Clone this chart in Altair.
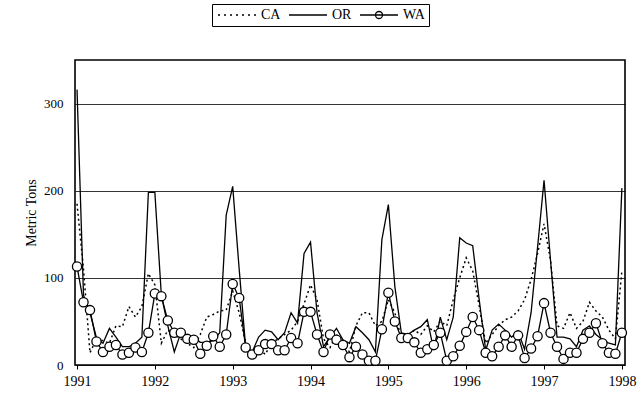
import altair as alt
import pandas as pd

# Monthly landings, Jan 1991 .. Jan 1998 (metric tons)
series_names = ["CA", "OR", "WA"]
start_year = 1991

ca = [185, 110, 14, 30, 28, 25, 45, 44, 67, 55, 67, 105,
      92, 25, 40, 35, 30, 25, 20, 35, 55, 58, 62, 63,
      85, 60, 25, 15, 20, 12, 25, 30, 35, 40, 50, 70,
      92, 75, 30, 20, 35, 25, 15, 45, 60, 60, 45, 50,
      75, 60, 30, 33, 40, 35, 45, 38, 50, 45, 75, 100,
      123, 108, 68, 25, 35, 45, 52, 55, 62, 75, 98, 128,
      162, 120, 45, 42, 60, 42, 50, 72, 62, 55, 40, 30,
      108]

oregon = [316, 80, 60, 31, 25, 42, 32, 21, 21, 25, 32, 198,
          198, 80, 45, 15, 37, 34, 32, 26, 26, 28, 37, 172,
          205, 110, 20, 15, 32, 40, 38, 29, 37, 60, 48, 128,
          141, 60, 21, 32, 42, 29, 25, 44, 37, 29, 15, 144,
          184, 90, 37, 35, 40, 44, 52, 17, 55, 29, 55, 146,
          140, 137, 75, 17, 40, 47, 40, 32, 38, 18, 60, 135,
          212, 120, 32, 32, 30, 21, 40, 45, 35, 29, 25, 23,
          203]

wa = [113, 72, 63, 27, 15, 21, 23, 12, 14, 20, 15, 37,
      82, 79, 51, 37, 37, 30, 29, 13, 22, 33, 21, 35,
      93, 77, 20, 12, 17, 24, 24, 17, 17, 31, 25, 61,
      61, 35, 15, 35, 29, 23, 9, 21, 12, 5, 5, 41,
      83, 50, 31, 31, 26, 14, 18, 23, 37, 5, 10, 22,
      38, 55, 40, 14, 10, 21, 34, 21, 34, 8, 19, 33,
      71, 37, 21, 7, 14, 14, 30, 37, 48, 25, 14, 13,
      37]

year_ticks = list(range(1991, 1999))
tons_ticks = [0, 100, 200, 300]

rows = []
for name, vals in zip(series_names, [ca, oregon, wa]):
    for i, v in enumerate(vals):
        rows.append({"t": start_year + i / 12.0, "series": name, "tons": v})
df = pd.DataFrame(rows)

FONT = "Liberation Serif"

x_enc = alt.X(
    "t:Q",
    scale=alt.Scale(domain=[1990.974, 1998.04], nice=False, zero=False),
    axis=alt.Axis(values=year_ticks, format="d", title=None, grid=False,
                  domain=False, tickSize=4, tickColor="black",
                  labelPadding=5, labelFontSize=14),
)
y_enc = alt.Y(
    "tons:Q",
    scale=alt.Scale(domain=[0, 350], nice=False),
    axis=alt.Axis(values=tons_ticks, title="Metric Tons", grid=True,
                  gridColor="black", gridWidth=0.8, domain=False,
                  tickSize=0, labelPadding=12, labelFontSize=13,
                  titleFontSize=14, titleFontWeight="normal",
                  titleFont=FONT, titlePadding=5),
)

base = alt.Chart(df)

ca_line = base.transform_filter("datum.series == 'CA'").mark_line(
    color="black", strokeWidth=1.5, strokeDash=[2, 3]
).encode(x=x_enc, y=y_enc)

or_line = base.transform_filter("datum.series == 'OR'").mark_line(
    color="black", strokeWidth=1.3
).encode(x=x_enc, y=y_enc)

wa_line = base.transform_filter("datum.series == 'WA'").mark_line(
    color="black", strokeWidth=1.3
).encode(x=x_enc, y=y_enc)

wa_pts = base.transform_filter("datum.series == 'WA'").mark_point(
    shape="circle", filled=True, fill="white", stroke="black",
    strokeWidth=1.3, size=85, opacity=1
).encode(x=x_enc, y=y_enc)

# Legend glyphs: dotted line, solid line, solid line with an open circle
ca_glyph = "M-1,0H-0.6M0.2,0H0.6M1.4,0H1.8M2.6,0H3M3.8,0H4.2M5,0H5.4M6.2,0H6.6"
or_glyph = "M-1,0H6.6"
wa_glyph = "M-1,0H6.6M2.1,0A0.7,0.7,0,1,1,3.5,0A0.7,0.7,0,1,1,2.1,0"

legend_layer = base.transform_filter("datum.tons < 0").mark_point(
    filled=False, color="black", opacity=1
).encode(
    x=x_enc,
    y=y_enc,
    shape=alt.Shape(
        "series:N",
        scale=alt.Scale(domain=series_names, range=[ca_glyph, or_glyph, wa_glyph]),
        legend=alt.Legend(
            title=None, orient="none", legendX=137, legendY=-56,
            direction="horizontal", symbolSize=100, symbolStrokeWidth=1.3,
            symbolStrokeColor="black", labelFont=FONT, labelFontSize=14,
            labelColor="black", labelOffset=31, columnPadding=5,
            padding=4, strokeColor="black", fillColor="white",
        ),
    ),
)

chart = alt.layer(ca_line, or_line, wa_line, wa_pts, legend_layer).properties(
    width=550,
    height=305,
    autosize=alt.AutoSizeParams(type="none"),
    padding={"left": 75, "top": 60, "right": 17, "bottom": 39},
    background="white",
).configure_view(
    stroke="black", strokeWidth=1.6
).configure_axis(
    labelFont=FONT, labelColor="black", titleColor="black"
)

chart.save("out.html", embed_options={"renderer": "svg", "actions": False})
